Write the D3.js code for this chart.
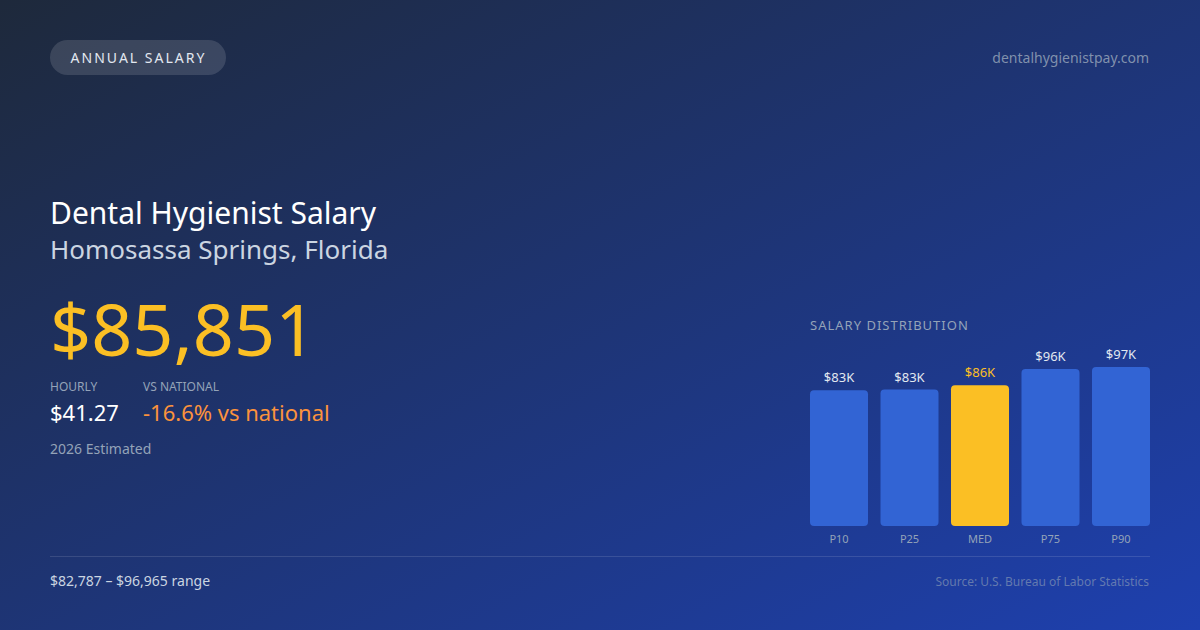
<!DOCTYPE html>
<html>
<head>
<meta charset="utf-8">
<script src="https://cdn.jsdelivr.net/npm/d3@7"></script>
<style>
  html, body { margin: 0; padding: 0; background: #1e293b; }
  svg { display: block; font-family: "Noto Sans", "Open Sans", sans-serif; }
</style>
</head>
<body>
<svg id="chart" width="1200" height="630"></svg>
<script>
const percentiles = ['P10', 'P25', 'MED', 'P75', 'P90']
const salaries = [82787, 83200, 85851, 95800, 96965]
const valueLabels = ['$83K', '$83K', '$86K', '$96K', '$97K']

const width = 1200
const height = 630
const svg = d3.select('#chart')

const gold = '#fbbf24'
const barBlue = '#3264d4'
const muted = '#94a3b8'

// background
const defs = svg.append('defs')
const grad = defs.append('linearGradient')
  .attr('id', 'bg')
  .attr('x1', '0%').attr('y1', '0%')
  .attr('x2', '100%').attr('y2', '100%')
grad.append('stop').attr('offset', '0%').attr('stop-color', '#1e293b')
grad.append('stop').attr('offset', '100%').attr('stop-color', '#1e40af')

svg.append('rect')
  .attr('width', width).attr('height', height)
  .attr('fill', 'url(#bg)')

// pill
svg.append('rect')
  .attr('x', 50).attr('y', 40)
  .attr('width', 176).attr('height', 35)
  .attr('rx', 17.5)
  .attr('fill', 'rgba(255,255,255,0.13)')

svg.append('text')
  .attr('x', 138.5).attr('y', 62.5)
  .attr('text-anchor', 'middle')
  .attr('font-size', '14px')
  .attr('letter-spacing', '2px')
  .attr('fill', '#e2e8f0')
  .text('ANNUAL SALARY')

svg.append('text')
  .attr('x', 1149).attr('y', 63)
  .attr('text-anchor', 'end')
  .attr('font-size', '14px')
  .attr('fill', 'rgba(148,163,184,0.85)')
  .text('dentalhygienistpay.com')

// headings
svg.append('text')
  .attr('x', 50).attr('y', 224)
  .attr('font-size', '30px')
  .attr('fill', '#ffffff')
  .text('Dental Hygienist Salary')

svg.append('text')
  .attr('x', 50).attr('y', 259)
  .attr('font-size', '26px')
  .attr('fill', '#cbd5e1')
  .text('Homosassa Springs, Florida')

svg.append('text')
  .attr('x', 50).attr('y', 356)
  .attr('font-size', '72px')
  .attr('fill', gold)
  .text('$85,851')

// small stats
svg.append('text')
  .attr('x', 50).attr('y', 391)
  .attr('font-size', '12px')
  .attr('fill', muted)
  .text('HOURLY')

svg.append('text')
  .attr('x', 143).attr('y', 391)
  .attr('font-size', '12px')
  .attr('fill', muted)
  .text('VS NATIONAL')

svg.append('text')
  .attr('x', 50).attr('y', 421)
  .attr('font-size', '22px')
  .attr('fill', '#ffffff')
  .text('$41.27')

svg.append('text')
  .attr('x', 143).attr('y', 421)
  .attr('font-size', '22px')
  .attr('fill', '#fb923c')
  .text('-16.6% vs national')

svg.append('text')
  .attr('x', 50).attr('y', 454)
  .attr('font-size', '14px')
  .attr('fill', muted)
  .text('2026 Estimated')

// footer
svg.append('line')
  .attr('x1', 50).attr('x2', 1150)
  .attr('y1', 556.5).attr('y2', 556.5)
  .attr('stroke', 'rgba(255,255,255,0.12)')

svg.append('text')
  .attr('x', 50).attr('y', 586)
  .attr('font-size', '14px')
  .attr('fill', '#cbd5e1')
  .text('$82,787 – $96,965 range')

svg.append('text')
  .attr('x', 1149).attr('y', 586)
  .attr('text-anchor', 'end')
  .attr('font-size', '12px')
  .attr('fill', 'rgba(148,163,184,0.6)')
  .text('Source: U.S. Bureau of Labor Statistics')

// distribution chart
svg.append('text')
  .attr('x', 810).attr('y', 330)
  .attr('font-size', '13px')
  .attr('letter-spacing', '1px')
  .attr('fill', muted)
  .text('SALARY DISTRIBUTION')

const xScale = d3.scaleBand()
  .domain(percentiles)
  .range([810, 1150])
  .paddingInner(0.177)

const yScale = d3.scaleLinear()
  .domain([0, d3.max(salaries)])
  .range([526, 367])

const data = percentiles.map((p, i) => ({ p, v: salaries[i], label: valueLabels[i] }))

const bars = svg.selectAll('g.bar')
  .data(data)
  .enter()
  .append('g')
    .attr('class', 'bar')

bars.append('rect')
  .attr('x', d => xScale(d.p))
  .attr('y', d => yScale(d.v))
  .attr('width', xScale.bandwidth())
  .attr('height', d => yScale(0) - yScale(d.v))
  .attr('rx', 4)
  .attr('fill', d => d.p === 'MED' ? gold : barBlue)

bars.append('text')
  .attr('x', d => xScale(d.p) + xScale.bandwidth() / 2)
  .attr('y', d => yScale(d.v) - 8)
  .attr('text-anchor', 'middle')
  .attr('font-size', '13px')
  .attr('fill', d => d.p === 'MED' ? gold : '#e2e8f0')
  .text(d => d.label)

const xAxis = d3.axisBottom(xScale).tickSize(0).tickPadding(7)

const axisG = svg.append('g')
  .attr('transform', 'translate(0, 528)')
  .call(xAxis)

axisG.select('path.domain').remove()
axisG.selectAll('.tick text')
  .attr('font-size', '11px')
  .attr('font-family', '"Noto Sans", "Open Sans", sans-serif')
  .attr('fill', muted)
</script>
</body>
</html>
